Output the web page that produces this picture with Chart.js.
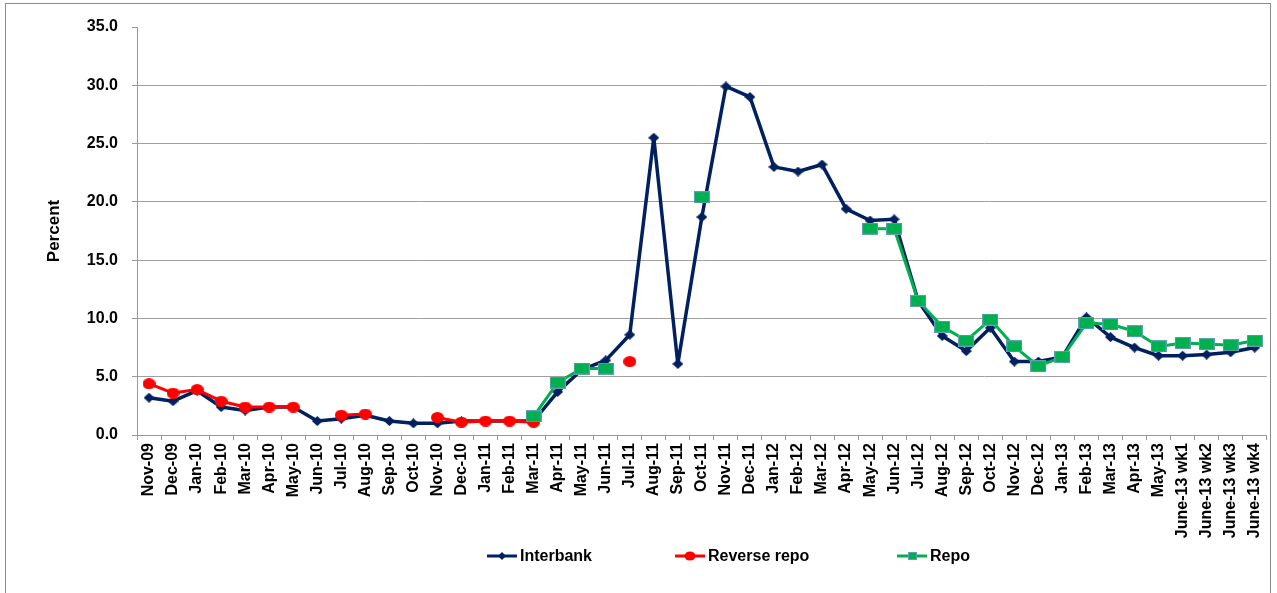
<!DOCTYPE html>
<html>
<head>
<meta charset="utf-8">
<script src="https://cdn.jsdelivr.net/npm/chart.js@4/dist/chart.umd.min.js"></script>
<style>
  body { margin: 0; background: #fff; }
  #wrap { width: 1277px; height: 593px; }
</style>
</head>
<body>
<div id="wrap"><canvas id="myChart" width="1277" height="593"></canvas></div>
<script>
// categories
const months = [
  'Nov-09', 'Dec-09',
  'Jan-10', 'Feb-10', 'Mar-10', 'Apr-10', 'May-10', 'Jun-10', 'Jul-10', 'Aug-10', 'Sep-10', 'Oct-10', 'Nov-10', 'Dec-10',
  'Jan-11', 'Feb-11', 'Mar-11', 'Apr-11', 'May-11', 'Jun-11', 'Jul-11', 'Aug-11', 'Sep-11', 'Oct-11', 'Nov-11', 'Dec-11',
  'Jan-12', 'Feb-12', 'Mar-12', 'Apr-12', 'May-12', 'Jun-12', 'Jul-12', 'Aug-12', 'Sep-12', 'Oct-12', 'Nov-12', 'Dec-12',
  'Jan-13', 'Feb-13', 'Mar-13', 'Apr-13', 'May-13',
  'June-13 wk1', 'June-13 wk2', 'June-13 wk3', 'June-13 wk4'
];

// series (percent)
const interbank = [
  3.2, 2.9,
  3.8, 2.4, 2.1, 2.4, 2.4, 1.2, 1.4, 1.7, 1.2, 1.0, 1.0, 1.2,
  1.2, 1.2, 1.2, 3.7, 5.6, 6.4, 8.6, 25.5, 6.1, 18.7, 29.9, 29.0,
  23.0, 22.6, 23.2, 19.4, 18.4, 18.5, 11.5, 8.5, 7.2, 9.2, 6.3, 6.3,
  6.7, 10.1, 8.4, 7.5, 6.8,
  6.8, 6.9, 7.1, 7.5
];
const reverseRepo = [
  4.4, 3.6,
  3.9, 2.9, 2.4, 2.4, 2.4, null, 1.7, 1.8, null, null, 1.5, 1.1,
  1.2, 1.2, 1.1, null, null, null, 6.3, null, null, null, null, null,
  null, null, null, null, null, null, null, null, null, null, null, null,
  null, null, null, null, null,
  null, null, null, null
];
const repo = [
  null, null,
  null, null, null, null, null, null, null, null, null, null, null, null,
  null, null, 1.6, 4.5, 5.7, 5.7, null, null, null, 20.4, null, null,
  null, null, null, null, 17.7, 17.7, 11.5, 9.3, 8.1, 9.9, 7.6, 5.9,
  6.7, 9.6, 9.5, 8.9, 7.6,
  7.9, 7.8, 7.7, 8.1
];

// y axis ticks
const yMin = 0, yMax = 35, yStep = 5;

const NAVY = '#002060', RED = '#ff0000', GREEN = '#00b050', EDGE = '#5f9fb4';
const FONT = "'Liberation Sans', Arial, sans-serif";

// marker images (the original markers are a bit wider than tall)
function makeMarker(w, h, draw) {
  const c = document.createElement('canvas');
  c.width = w; c.height = h;
  draw(c.getContext('2d'), w, h);
  return c;
}
const squareMark = makeMarker(16, 12, (g, w, h) => {
  g.fillStyle = GREEN; g.fillRect(0, 0, w, h);
  g.strokeStyle = EDGE; g.lineWidth = 1; g.strokeRect(0.5, 0.5, w - 1, h - 1);
});
const dotMark = makeMarker(13, 11, (g, w, h) => {
  g.fillStyle = RED; g.beginPath();
  g.ellipse(w / 2, h / 2, w / 2, h / 2, 0, 0, Math.PI * 2); g.fill();
});
const diamondMark = makeMarker(11, 10, (g, w, h) => {
  g.fillStyle = NAVY; g.beginPath();
  g.moveTo(w / 2, 0); g.lineTo(w, h / 2); g.lineTo(w / 2, h); g.lineTo(0, h / 2);
  g.closePath(); g.fill();
});

const data = {
  labels: months,
  datasets: [
    { label: 'Interbank', data: interbank, borderColor: NAVY, backgroundColor: NAVY,
      borderWidth: 3.5, pointStyle: diamondMark, order: 3 },
    { label: 'Reverse repo', data: reverseRepo, borderColor: RED, backgroundColor: RED,
      borderWidth: 3, pointStyle: dotMark, order: 2 },
    { label: 'Repo', data: repo, borderColor: GREEN, backgroundColor: GREEN,
      borderWidth: 3, pointStyle: squareMark, order: 1 }
  ]
};

// frame round the whole chart
const outerFrame = {
  id: 'outerFrame',
  beforeDraw(chart) {
    const { ctx } = chart;
    ctx.save();
    ctx.strokeStyle = '#8c8c8c';
    ctx.lineWidth = 1;
    ctx.strokeRect(5.5, 3.5, 1265, 620);
    ctx.restore();
  }
};

// legend with line + marker, spaced like the original
const lineLegend = {
  id: 'lineLegend',
  afterDraw(chart) {
    const { ctx } = chart;
    const xs = [487, 675, 897];
    const y = 556;
    ctx.save();
    chart.data.datasets.forEach((ds, i) => {
      const x = xs[i];
      ctx.strokeStyle = ds.borderColor;
      ctx.lineWidth = 3;
      ctx.beginPath();
      ctx.moveTo(x, y); ctx.lineTo(x + 30, y);
      ctx.stroke();
      ctx.fillStyle = ds.backgroundColor;
      ctx.beginPath();
      if (i === 0) {
        ctx.moveTo(x + 15, y - 4); ctx.lineTo(x + 19, y); ctx.lineTo(x + 15, y + 4); ctx.lineTo(x + 11, y);
        ctx.closePath(); ctx.fill();
      } else if (i === 1) {
        ctx.ellipse(x + 15, y, 5.5, 4.5, 0, 0, Math.PI * 2); ctx.fill();
      } else {
        ctx.fillRect(x + 11, y - 4, 9, 8);
        ctx.strokeStyle = EDGE; ctx.lineWidth = 1;
        ctx.strokeRect(x + 11.5, y - 3.5, 8, 7);
      }
      ctx.fillStyle = '#000';
      ctx.font = 'bold 16px ' + FONT;
      ctx.textBaseline = 'middle';
      ctx.textAlign = 'left';
      ctx.fillText(ds.label, x + 33, y + 1);
    });
    ctx.restore();
  }
};

const config = {
  type: 'line',
  data,
  options: {
    responsive: false,
    animation: false,
    spanGaps: false,
    elements: {
      line: { tension: 0, borderJoinStyle: 'round', borderCapStyle: 'round' },
      point: { radius: 5, hoverRadius: 5 }
    },
    layout: { padding: { left: 0, right: 7, top: 27, bottom: 0 } },
    scales: {
      x: {
        offset: true,
        grid: { offset: true, drawOnChartArea: false, drawTicks: true, tickLength: 5, color: '#999' },
        border: { display: true, color: '#999' },
        ticks: {
          autoSkip: false, minRotation: 90, maxRotation: 90, padding: 3,
          color: '#000', font: { family: FONT, size: 16, weight: 'bold' }
        },
        afterFit(scale) { scale.height = 158; }
      },
      y: {
        min: yMin, max: yMax,
        grid: {
          color: c => (c.tick && c.tick.value === yMax) ? 'rgba(0,0,0,0)' : '#a0a0a0',
          tickColor: '#999', tickLength: 5
        },
        border: { display: true, color: '#999' },
        ticks: {
          stepSize: yStep, padding: 14,
          color: '#000', font: { family: FONT, size: 16, weight: 'bold' },
          callback: v => v.toFixed(1)
        },
        title: {
          display: true, text: 'Percent', color: '#000',
          font: { family: FONT, size: 17, weight: 'bold' },
          padding: { top: 44, bottom: 0 }
        },
        afterFit(scale) { scale.width = 137; }
      }
    },
    plugins: {
      legend: { display: false },
      tooltip: { enabled: false }
    }
  },
  plugins: [outerFrame, lineLegend]
};

const myChart = new Chart(document.getElementById('myChart'), config);
</script>
</body>
</html>
